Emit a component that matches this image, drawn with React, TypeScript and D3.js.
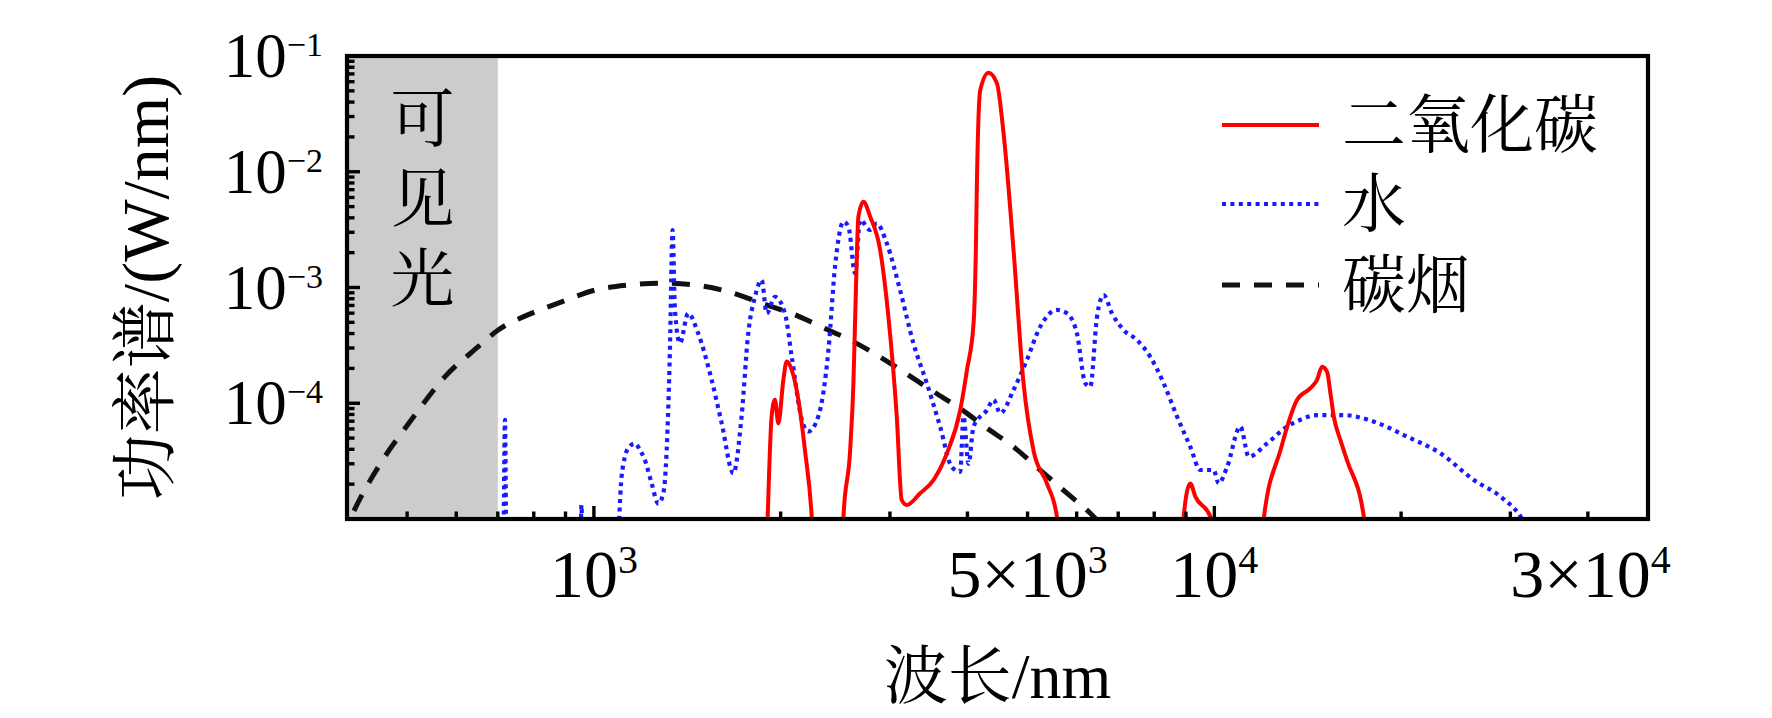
import React from 'react';
import * as d3 from 'd3';

// wavelength (nm) / spectral power (W/nm)
// values below 1e-5 are off the bottom of the chart and get clipped
const co2Spectrum: [number, number][] = [
  [1895, 4e-6], [1906, 1.05e-5], [1934, 7.7e-5], [1958, 1.07e-4], [1983, 6.7e-5], [2020, 1.59e-4],
  [2045, 2.29e-4], [2084, 1.94e-4], [2136, 1.07e-4], [2189, 3.9e-5], [2244, 1.05e-5], [2265, 4e-6],
  [2505, 4e-6], [2525, 1.05e-5], [2588, 3.9e-5], [2620, 1.49e-4], [2646, 1.09e-3], [2669, 4.09e-3],
  [2719, 5.51e-3], [2788, 4.09e-3], [2893, 2.11e-3], [2983, 5.6e-4], [3077, 7.7e-5], [3134, 1.46e-5],
  [3193, 1.32e-5], [3357, 1.67e-5], [3526, 2.17e-5], [3707, 3.7e-5], [3894, 8.7e-5], [3993, 1.94e-4],
  [4092, 4.9e-4], [4127, 2.11e-3], [4143, 7.94e-3], [4195, 0.0508], [4325, 0.0718], [4462, 0.0581],
  [4574, 0.0215], [4746, 2.11e-3], [4926, 1.49e-4], [5112, 3.9e-5], [5372, 2.03e-5], [5575, 1.05e-5],
  [5620, 4e-6],
  [8880, 4e-6], [8924, 1.05e-5], [9148, 2.03e-5], [9320, 1.56e-5], [9852, 1.05e-5], [9950, 4e-6],
  [11940, 4e-6], [12015, 1.01e-5], [12784, 3.94e-5], [13596, 1.07e-4], [14286, 1.35e-4], [14640, 1.59e-4],
  [14917, 2.07e-4], [15195, 1.87e-4], [15386, 1.22e-4], [15577, 7.7e-5], [15968, 4.8e-5], [16368, 3.2e-5],
  [17414, 1.05e-5], [17600, 4e-6],
];

const waterSpectrum: [number, number][] = [
  [715, 4e-6], [719, 7.2e-5], [723, 4e-6],
  [950, 4e-6], [955, 1.32e-5], [960, 4e-6],
  [1088, 5e-6], [1108, 2.3e-5], [1122, 3.45e-5], [1140, 4.2e-5], [1165, 4.5e-5], [1185, 4.0e-5],
  [1209, 3.2e-5], [1239, 2.03e-5], [1270, 1.36e-5], [1294, 1.67e-5], [1310, 3.9e-5], [1326, 2.88e-4],
  [1339, 3.14e-3], [1351, 6.4e-4], [1376, 3.3e-4], [1419, 5.98e-4], [1473, 4.0e-4], [1548, 1.59e-4],
  [1607, 6.7e-5], [1678, 2.48e-5], [1730, 7.7e-5], [1773, 4.0e-4], [1818, 8.3e-4], [1864, 1.16e-3],
  [1899, 5.98e-4], [1958, 8.3e-4], [2032, 5.98e-4], [2084, 2.52e-4], [2163, 7.2e-5], [2216, 5.7e-5],
  [2300, 7.7e-5], [2388, 2.88e-4], [2447, 1.51e-3], [2525, 3.7e-3], [2572, 3.35e-3], [2636, 1.33e-3],
  [2686, 3.83e-3], [2788, 3.14e-3], [2857, 3.58e-3], [2965, 2.41e-3], [3115, 9.5e-4], [3273, 3.3e-4],
  [3440, 1.49e-4], [3614, 6.3e-5], [3776, 2.8e-5], [3894, 2.56e-5], [3942, 7.7e-5], [4016, 3.0e-5],
  [4092, 6.3e-5], [4298, 8.7e-5], [4406, 1.07e-4], [4518, 8.2e-5], [4746, 1.3e-4], [4986, 2.36e-4],
  [5240, 4.58e-4], [5575, 6.4e-4], [5787, 5.98e-4], [6006, 4.0e-4], [6194, 1.49e-4], [6310, 1.39e-4],
  [6470, 5.6e-4], [6631, 8.6e-4], [6839, 5.98e-4], [7142, 4.29e-4], [7504, 3.52e-4], [7884, 2.52e-4],
  [8284, 1.49e-4], [8705, 7.7e-5], [9148, 4.2e-5], [9493, 2.65e-5], [9975, 2.65e-5], [10162, 2.03e-5],
  [10482, 2.8e-5], [11014, 6.3e-5], [11362, 3.45e-5], [12163, 4.5e-5], [13101, 6.3e-5], [13765, 7.2e-5],
  [14640, 7.9e-5], [16170, 7.9e-5], [18070, 6.93e-5], [20460, 5.14e-5], [23150, 3.69e-5], [26200, 2.17e-5],
  [28930, 1.56e-5], [31160, 1.05e-5], [32500, 7e-6],
];

const sootSpectrum: [number, number][] = [
  [392, 6.5e-6], [405, 1.0e-5], [449, 2.8e-5], [508, 7.2e-5], [575, 1.69e-4], [651, 3.08e-4],
  [701, 4.29e-4], [793, 5.98e-4], [887, 7.5e-4], [1004, 9.5e-4], [1136, 1.05e-3], [1286, 1.09e-3],
  [1455, 1.05e-3], [1647, 9.2e-4], [1864, 7.3e-4], [2110, 5.8e-4], [2388, 4.29e-4], [2588, 3.52e-4],
  [2857, 2.61e-4], [3154, 1.87e-4], [3526, 1.26e-4], [3894, 9.0e-5], [4298, 6.1e-5], [4746, 4.2e-5],
  [5240, 2.65e-5], [5787, 1.67e-5], [6310, 1.12e-5], [6700, 8e-6],
];

const visibleLimit = 700; // nm, end of the grey band

const xTickLabelValues = [1000, 5000, 10000, 30000];
const xTickLabelPrefix = ['', '5×', '', '3×'];
const xTickLabelExp = ['3', '3', '4', '4'];

const yTickLabelValues = [1e-1, 1e-2, 1e-3, 1e-4];
const yTickLabelExp = ['−1', '−2', '−3', '−4'];

const legendNames = ['二氧化碳', '水', '碳烟'];
const visibleText = ['可', '见', '光'];

const FONT = "'Times New Roman', 'Liberation Serif', 'Noto Serif CJK SC', 'Noto Sans CJK SC', serif";

const App: React.FC = () => {
  const width = 1772;
  const height = 718;
  const margin = { left: 347, right: 124, top: 56, bottom: 199 };
  const x0 = margin.left;
  const x1 = width - margin.right;
  const y0 = margin.top;
  const y1 = height - margin.bottom;

  const x = d3.scaleLog().domain([400, 50000]).range([x0, x1]);
  const y = d3.scaleLog().domain([1e-5, 1e-1]).range([y1, y0]);

  const line = d3.line<[number, number]>()
    .x(d => x(d[0]))
    .y(d => y(d[1]))
    .curve(d3.curveMonotoneX);

  const isMajor = (v: number) => Math.abs(Math.log10(v) - Math.round(Math.log10(v))) < 1e-6;
  const xTicks = x.ticks().filter(v => v > 400 && v < 50000);
  const yTicks = y.ticks();

  const series = [
    { data: co2Spectrum, color: '#ff0000', width: 4, dash: undefined as string | undefined },
    { data: waterSpectrum, color: '#1a1aff', width: 4.2, dash: '4,4.4' },
    { data: sootSpectrum, color: '#111111', width: 5, dash: '18,14' },
  ];

  const legendY = [125, 204, 285];

  return (
    <svg width={width} height={height} style={{ position: 'absolute', left: 0, top: 0, background: '#fff' }}
      fontFamily={FONT}>
      <defs>
        <clipPath id="plot-clip">
          <rect x={x0} y={y0} width={x1 - x0} height={y1 - y0} />
        </clipPath>
      </defs>

      {/* visible band */}
      <rect x={x0} y={y0} width={x(visibleLimit) - x0} height={y1 - y0} fill="#cccccc" />
      {visibleText.map((c, i) => (
        <text key={c} x={(x0 + x(visibleLimit)) / 2} y={119 + i * 80} fontSize={64}
          textAnchor="middle" dominantBaseline="central">{c}</text>
      ))}

      {/* curves: soot, water, co2 */}
      <g clipPath="url(#plot-clip)" fill="none" strokeLinejoin="round">
        {[series[2], series[1], series[0]].map((s, i) => (
          <path key={i} d={line(s.data) || ''} stroke={s.color} strokeWidth={s.width}
            strokeDasharray={s.dash} />
        ))}
      </g>

      {/* ticks */}
      {xTicks.map(v => (
        <line key={`xt${v}`} x1={x(v)} x2={x(v)} y1={y1} y2={y1 - (isMajor(v) ? 13 : 7.5)}
          stroke="#000" strokeWidth={3.4} />
      ))}
      {yTicks.map(v => (
        <line key={`yt${v}`} x1={x0} x2={x0 + (isMajor(v) ? 13 : 7.5)} y1={y(v)} y2={y(v)}
          stroke="#000" strokeWidth={3.4} />
      ))}

      {/* frame */}
      <rect x={x0} y={y0} width={x1 - x0} height={y1 - y0} fill="none" stroke="#000" strokeWidth={4.2} />

      {/* x tick labels */}
      {xTickLabelValues.map((v, i) => (
        <text key={`xl${v}`} x={x(v)} y={597} fontSize={68}
          textAnchor={i === xTickLabelValues.length - 1 ? 'start' : 'middle'}>
          {xTickLabelPrefix[i]}10<tspan dy={-24} fontSize={40}>{xTickLabelExp[i]}</tspan>
        </text>
      ))}

      {/* y tick labels */}
      {yTickLabelValues.map((v, i) => (
        <text key={`yl${v}`} x={x0 - 24} y={y(v) + 21} fontSize={63} textAnchor="end">
          10<tspan dy={-21} fontSize={34}>{yTickLabelExp[i]}</tspan>
        </text>
      ))}

      {/* axis titles */}
      <text x={(x0 + x1) / 2} y={698} fontSize={64} textAnchor="middle">波长/nm</text>
      <text transform={`translate(168,${(y0 + y1) / 2}) rotate(-90)`} fontSize={66} textAnchor="middle">
        功率谱/(W/nm)
      </text>

      {/* legend */}
      {series.map((s, i) => (
        <g key={`lg${i}`}>
          <line x1={1222} x2={1319} y1={legendY[i]} y2={legendY[i]} stroke={s.color}
            strokeWidth={s.width} strokeDasharray={s.dash} />
          <text x={1342} y={legendY[i]} fontSize={64} dominantBaseline="central">{legendNames[i]}</text>
        </g>
      ))}
    </svg>
  );
};

export default App;
